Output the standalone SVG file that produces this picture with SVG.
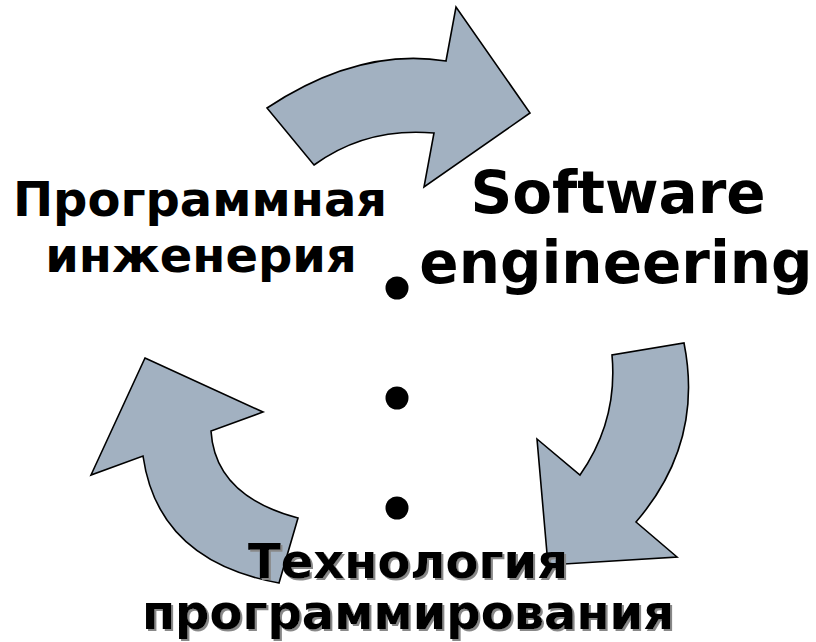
<svg xmlns="http://www.w3.org/2000/svg" width="816" height="642" viewBox="0 0 816 642">
<defs>
<filter id="shadow" x="-5%" y="-20%" width="110%" height="140%">
<feDropShadow dx="2" dy="2" stdDeviation="0.6" flood-color="#888" flood-opacity="1"/>
</filter>
</defs>
<style>
.arrow{fill:#a2b1c1;stroke:#000;stroke-width:1.6;stroke-linejoin:miter}
.t{font-family:"DejaVu Sans","Liberation Sans",sans-serif;font-weight:bold;text-anchor:middle;fill:#000}
</style>
<rect width="816" height="642" fill="#fff"/>
<g id="connectors">
<path id="arrow-top" class="arrow" d="M267,108 Q359,47 446,61 L456,7 L530,113 L424,187 L434,133 Q366,127 314,165 Z"/>
<path id="arrow-right" class="arrow" d="M684,343 Q704,443 636,522 L677,557 L548,565 L537,439 L580,475 Q618,421 612,355 Z"/>
<path id="arrow-left" class="arrow" d="M145,358 L263,412 L211,431 Q215,496 298,518 L279,583 Q158,561 143,456 L91,475 Z"/>
</g>
<g id="node-left">
<text class="t" font-size="48" x="200" y="216">Программная</text>
<text class="t" font-size="48" x="201" y="272">инженерия</text>
</g>
<g id="node-right">
<text class="t" font-size="58" x="618" y="213">Software</text>
<text class="t" font-size="58" x="616" y="283">engineering</text>
</g>
<g id="node-bottom" filter="url(#shadow)">
<text class="t" font-size="48" x="408" y="578">Технология</text>
<text class="t" font-size="48" x="408" y="629">программирования</text>
</g>
<g id="dots">
<circle cx="397" cy="288" r="11.5"/>
<circle cx="397" cy="398" r="11.5"/>
<circle cx="397" cy="508" r="11.5"/>
</g>
</svg>
